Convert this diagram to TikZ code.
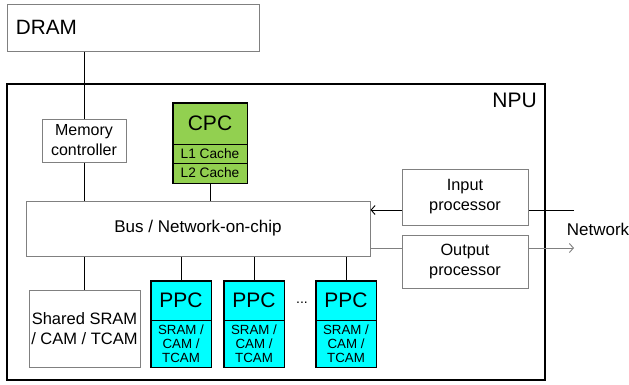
\documentclass[tikz,border=0pt]{standalone}
\usepackage{fontspec}
\setmainfont{Liberation Sans}
\usetikzlibrary{arrows.meta}
\definecolor{boxgray}{HTML}{808080}
\definecolor{cpcgreen}{HTML}{92D050}
\definecolor{ppccyan}{HTML}{00FFFF}
\tikzset{
  gbox/.style={draw=boxgray, line width=1pt, fill=white, inner sep=0pt, align=center, font=\fontsize{16.3}{20}\selectfont},
  part/.style={draw=black, line width=0.8pt, inner sep=0pt, align=center},
  conn/.style={draw=black, line width=0.9pt},
  gconn/.style={draw=boxgray, line width=1pt},
  openarrow/.style={-{Straight Barb[length=4pt,width=9pt,line width=0.9pt]}},
}
\begin{document}
\begin{tikzpicture}[x=1pt,y=-1pt]
\useasboundingbox (0,0) rectangle (629,384);
% NPU
\node[draw=black, line width=1.6pt, minimum width=538pt, minimum height=296pt, inner sep=0pt] (npu) at (276,232) {};
\node[anchor=north east, inner sep=0pt, font=\fontsize{21}{24}\selectfont] (npulabel) at (537,93) {NPU};
% DRAM
\node[gbox, minimum height=47pt, text width=234pt, inner xsep=9pt, align=left, font=\fontsize{20.7}{24}\selectfont] (dram) at (133,27.5) {DRAM};
% Memory controller
\node[gbox, minimum width=84pt, minimum height=43pt, font=\fontsize{16}{20}\selectfont] (mem) at (84,140.5) {Memory\\controller};
% CPC
\node[part, fill=cpcgreen, minimum width=74pt, minimum height=41pt, font=\fontsize{21}{24}\selectfont] (cpc) at (210,123.5) {CPC};
\node[part, fill=cpcgreen, minimum width=74pt, minimum height=19pt, font=\fontsize{13.7}{15}\selectfont] (l1) at (210,153.5) {L1 Cache};
\node[part, fill=cpcgreen, minimum width=74pt, minimum height=20pt, font=\fontsize{13.7}{15}\selectfont] (l2) at (210,173) {L2 Cache};
\draw[line width=1.8pt] (cpc.north west) rectangle (l2.south east);
% Bus
\node[gbox, minimum width=344pt, minimum height=55pt, font=\fontsize{17}{20}\selectfont] (bus) at (198,228.5) {Bus / Network-on-chip};
% Input / output processors
\node[gbox, minimum width=126pt, minimum height=56pt] (inp) at (465,197) {Input\\processor};
\node[gbox, minimum width=126pt, minimum height=53pt] (outp) at (465,261.5) {Output\\processor};
% Shared SRAM
\node[gbox, minimum width=111pt, minimum height=77pt, font=\fontsize{16.5}{20}\selectfont] (shared) at (84.5,328.5) {Shared SRAM\\/ CAM / TCAM};
% PPCs
\foreach \i/\x in {1/181,2/254,3/346}{
  \node[part, fill=ppccyan, minimum width=60pt, minimum height=39pt, font=\fontsize{21}{24}\selectfont] (ppc\i) at (\x,300.5) {PPC};
  \node[part, fill=ppccyan, minimum width=60pt, minimum height=47pt, font=\fontsize{13.3}{14}\selectfont] (mem\i) at (\x,343.5) {SRAM /\\CAM /\\TCAM};
  \draw[line width=1.8pt] (ppc\i.north west) rectangle (mem\i.south east);
}
\node[inner sep=0pt, font=\fontsize{14}{16}\selectfont] (dots) at (302,303) {...};
% Network
\node[inner sep=0pt, font=\fontsize{17}{20}\selectfont] (net) at (598,229) {Network};
\coordinate (netin) at (574,210);
\coordinate (netout) at (574,248);
% connectors
\draw[conn] (mem.north |- dram.south) -- (mem.north);
\draw[conn] (mem.south) -- (mem.south |- bus.north);
\draw[conn] (l2.south) -- (l2.south |- bus.north);
\draw[conn] (shared.north |- bus.south) -- (shared.north);
\foreach \i in {1,2,3}{
  \draw[conn] (ppc\i.north |- bus.south) -- (ppc\i.north);
}
\draw[conn] (netin) -- (netin -| inp.east);
\draw[conn, openarrow] (netin -| inp.west) -- (netin -| bus.east);
\draw[gconn] (netout -| bus.east) -- (netout -| outp.west);
\draw[gconn, openarrow] (netout -| outp.east) -- (netout);
\end{tikzpicture}
\end{document}
